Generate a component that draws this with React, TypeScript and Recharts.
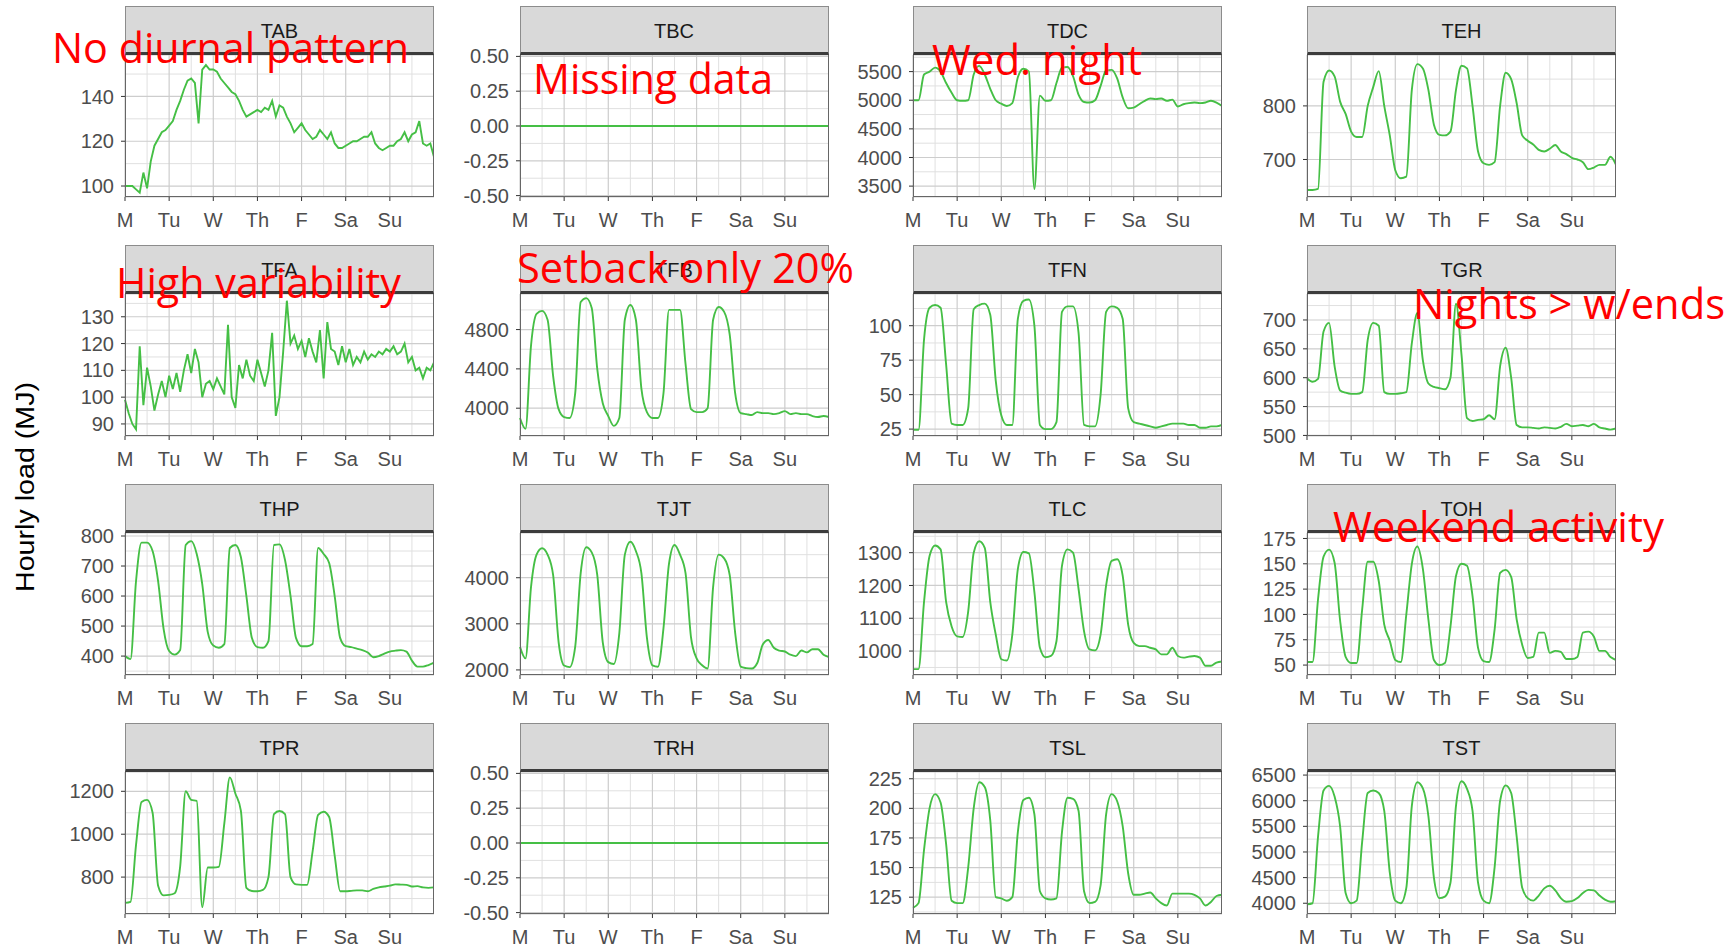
import { LineChart, Line, XAxis, YAxis, CartesianGrid } from 'recharts';

const DAYS = ['M', 'Tu', 'W', 'Th', 'F', 'Sa', 'Su'];
const DAY_HOURS = [0, 24, 48, 72, 96, 120, 144];
const HALF_DAYS = [12, 36, 60, 84, 108, 132, 156];

// hourly load (MJ) over one week; TAB and TFA read every 2 h, the rest every 3 h
const TAB = [
  100, 100, 100, 98.5, 97, 106, 99, 111, 118, 121, 124, 125,
  127, 129, 134, 138, 143, 147, 148, 146, 128, 152, 154, 152,
  152, 151, 148, 146, 144, 142, 141, 138, 134, 131, 132, 133,
  134, 133, 135, 134, 138, 131, 136, 135, 131, 128, 124, 126,
  128, 125, 123, 121, 122, 125, 123, 121, 124, 119, 117, 117,
  118, 119, 120, 120, 121, 122, 122, 124, 119, 117, 116, 117,
  118, 118, 120, 121, 124, 120, 123, 124, 129, 119, 118, 119,
  113,
];
const TBC = [0, 0];
const TDC = [
  5000, 5000, 5450, 5500, 5570, 5500, 5300, 5130,
  5000, 4990, 5000, 5450, 5600, 5450, 5200, 5000,
  4940, 4900, 4950, 5400, 5550, 5500, 3450, 5080,
  4990, 5000, 5300, 5570, 5580, 5420, 5100, 4970,
  4960, 5000, 5250, 5520, 5530, 5380, 5050, 4860,
  4870, 4930, 4990, 5030, 5020, 5030, 4990, 5010,
  4890, 4930, 4950, 4960, 4950, 4960, 4990, 4960,
  4900,
];
const TEH = [
  643, 643, 645, 845, 866, 855, 808, 785,
  752, 742, 742, 800, 835, 865, 800, 745,
  680, 665, 668, 830, 878, 870, 830, 765,
  746, 745, 752, 830, 875, 870, 800, 715,
  693, 690, 695, 800, 862, 850, 805, 745,
  735, 728, 718, 715, 720, 727, 715, 710,
  703, 700, 695, 682, 685, 690, 690, 705,
  690,
];
const TFA = [
  99, 94, 90, 88, 119, 97, 111, 104, 95, 101, 106, 100,
  108, 103, 109, 102, 110, 116, 109, 118, 113, 100, 105, 106,
  103, 107, 104, 101, 127, 100, 96, 112, 107, 114, 108, 106,
  114, 109, 104, 110, 124, 93, 100, 117, 136, 120, 123, 118,
  121, 115, 122, 117, 113, 125, 107, 128, 118, 117, 112, 119,
  113, 118, 112, 115, 113, 117, 114, 116, 115, 117, 116, 118,
  117, 119, 116, 117, 120, 113, 115, 110, 111, 107, 111, 110,
  113,
];
const TFB = [
  3900, 3790, 4640, 4960, 4990, 4900, 4330, 3990,
  3910, 3900, 4150, 5080, 5120, 5020, 4400, 4050,
  3920, 3820, 3900, 4900, 5050, 4900, 4200, 3960,
  3900, 3900, 4150, 5000, 5000, 5000, 4450, 3990,
  3960, 3960, 4000, 4900, 5030, 4980, 4750, 4150,
  3950, 3940, 3930, 3960, 3950, 3950, 3940, 3950,
  3970, 3940, 3950, 3940, 3940, 3920, 3910, 3920,
  3910,
];
const TFN = [
  24.5, 24.5, 90, 113, 115, 113, 72, 29,
  28, 28, 40, 112, 115, 116, 108, 60,
  35, 28, 28, 105, 118, 119, 100, 28,
  25, 25, 30, 110, 114, 114, 95, 28,
  27, 27, 50, 110, 114, 113, 105, 40,
  30, 29, 28, 27, 26, 27, 28, 29,
  29, 29, 28, 28, 26, 26, 27, 27,
  28,
];
const TGR = [
  599, 593, 598, 680, 695, 620, 578, 574,
  572, 572, 575, 665, 695, 690, 575, 572,
  572, 573, 575, 660, 712, 630, 590, 584,
  582, 580, 600, 728, 640, 530, 525, 527,
  528, 535, 528, 620, 652, 600, 518, 514,
  514, 513, 512, 514, 513, 512, 515, 520,
  516, 517, 518, 516, 520, 514, 512, 510,
  512,
];
const THP = [
  400, 390, 650, 778, 778, 750, 650, 490,
  417, 405, 420, 770, 783, 740, 640, 480,
  435, 428, 440, 760, 770, 730, 600, 460,
  430, 428, 450, 770, 772, 720, 600, 460,
  433, 433, 440, 760, 740, 710, 600, 460,
  433, 430, 425, 420, 412, 396, 400, 408,
  415, 418, 420, 415, 385, 365, 365, 370,
  378,
];
const TJT = [
  2500, 2250, 3800, 4500, 4640, 4500, 4060, 2600,
  2095, 2060, 2500, 4100, 4660, 4550, 4060, 2600,
  2170, 2130, 2800, 4500, 4780, 4580, 4100, 2700,
  2100, 2070, 2900, 4300, 4710, 4500, 4100, 2700,
  2250, 2100, 2030, 3800, 4500, 4420, 4060, 2800,
  2070, 2040, 2030, 2150, 2550, 2650, 2480, 2420,
  2400, 2330, 2300, 2420, 2380, 2450, 2450, 2330,
  2280,
];
const TLC = [
  945, 945, 1150, 1290, 1322, 1310, 1150, 1075,
  1045, 1043, 1120, 1300, 1335, 1315, 1150, 1050,
  975, 971, 1050, 1250, 1302, 1298, 1180, 1010,
  981, 985, 1030, 1260, 1310, 1300, 1190, 1060,
  1005, 1002, 1050, 1200, 1275, 1280, 1230, 1080,
  1025, 1015, 1015, 1010, 1005, 990, 990, 1010,
  985, 980, 983, 985, 980, 955, 955, 965,
  968,
];
const TOH = [
  53, 53, 115, 157, 164, 151, 94, 58,
  52, 52, 105, 152, 152, 133, 90, 74,
  55, 53, 100, 150, 167, 145, 95, 55,
  50, 52, 88, 138, 150, 148, 118, 67,
  54, 53, 85, 141, 144, 137, 95, 70,
  57, 58, 82, 82, 62, 64, 63, 56,
  56, 58, 82, 83, 78, 64, 64, 58,
  55,
];
const TPR = [
  680, 685, 950, 1150, 1160, 1100, 760, 715,
  717, 725, 850, 1200, 1160, 1155, 660, 845,
  845, 848, 1050, 1265, 1190, 1110, 750, 735,
  734, 740, 800, 1094, 1108, 1094, 800, 766,
  764, 764, 920, 1090, 1105, 1080, 900, 734,
  734, 736, 738, 738, 734, 745, 752, 756,
  760, 766, 765, 764, 756, 758, 752, 750,
  752,
];
const TRH = [0, 0];
const TSL = [
  116, 120, 165, 200, 212, 205, 170, 122,
  120, 120, 150, 200, 222, 218, 190, 125,
  124, 122, 125, 180, 207, 209, 195, 130,
  124, 123, 124, 180, 209, 208, 198, 130,
  120, 121, 135, 195, 212, 206, 185, 145,
  127, 127, 128, 129, 124, 120, 118, 128,
  128, 128, 128, 127, 124, 118, 121, 126,
  127,
];
const TST = [
  3980, 4000, 5300, 6200, 6290, 6080, 5500, 4200,
  4000, 4050, 5200, 6150, 6200, 6150, 5800, 4600,
  4050, 4000, 4300, 5900, 6360, 6240, 5700, 4500,
  4100, 4130, 4400, 5900, 6380, 6230, 5800, 4400,
  4050, 4000, 4700, 6000, 6300, 6150, 5300, 4300,
  4100, 4050, 4150, 4290, 4340, 4250, 4100, 4030,
  4040, 4100, 4200, 4260, 4250, 4150, 4070, 4030,
  4040,
];

// y tick labels
const TAB_TICKS = [100, 120, 140];
const ZERO_TICKS = [-0.5, -0.25, 0, 0.25, 0.5];
const TDC_TICKS = [3500, 4000, 4500, 5000, 5500];
const TEH_TICKS = [700, 800];
const TFA_TICKS = [90, 100, 110, 120, 130];
const TFB_TICKS = [4000, 4400, 4800];
const TFN_TICKS = [25, 50, 75, 100];
const TGR_TICKS = [500, 550, 600, 650, 700];
const THP_TICKS = [400, 500, 600, 700, 800];
const TJT_TICKS = [2000, 3000, 4000];
const TLC_TICKS = [1000, 1100, 1200, 1300];
const TOH_TICKS = [50, 75, 100, 125, 150, 175];
const TPR_TICKS = [800, 1000, 1200];
const TSL_TICKS = [125, 150, 175, 200, 225];
const TST_TICKS = [4000, 4500, 5000, 5500, 6000, 6500];

const PANELS = [
  { name: 'TAB', values: TAB, step: 2, domain: [95.1, 158.5], ticks: TAB_TICKS },
  { name: 'TBC', values: TBC, step: 168, domain: [-0.51, 0.51], ticks: ZERO_TICKS },
  { name: 'TDC', values: TDC, step: 3, domain: [3310, 5790], ticks: TDC_TICKS },
  { name: 'TEH', values: TEH, step: 3, domain: [630, 895], ticks: TEH_TICKS },
  { name: 'TFA', values: TFA, step: 2, domain: [85.5, 138.5], ticks: TFA_TICKS },
  { name: 'TFB', values: TFB, step: 3, domain: [3717, 5162], ticks: TFB_TICKS },
  { name: 'TFN', values: TFN, step: 3, domain: [20, 123], ticks: TFN_TICKS },
  { name: 'TGR', values: TGR, step: 3, domain: [499, 745], ticks: TGR_TICKS },
  { name: 'THP', values: THP, step: 3, domain: [337, 810], ticks: THP_TICKS },
  { name: 'TJT', values: TJT, step: 3, domain: [1890, 4970], ticks: TJT_TICKS },
  { name: 'TLC', values: TLC, step: 3, domain: [927, 1360], ticks: TLC_TICKS },
  { name: 'TOH', values: TOH, step: 3, domain: [40.2, 180.4], ticks: TOH_TICKS },
  { name: 'TPR', values: TPR, step: 3, domain: [628, 1290], ticks: TPR_TICKS },
  { name: 'TRH', values: TRH, step: 168, domain: [-0.51, 0.51], ticks: ZERO_TICKS },
  { name: 'TSL', values: TSL, step: 3, domain: [110.8, 230.7], ticks: TSL_TICKS },
  { name: 'TST', values: TST, step: 3, domain: [3790, 6560], ticks: TST_TICKS },
];

const NOTES = [
  { text: 'No diurnal pattern', x: 52, y: 63, w: 357 },
  { text: 'Missing data', x: 533, y: 94, w: 240 },
  { text: 'Wed. night', x: 932, y: 75, w: 210 },
  { text: 'High variability', x: 116, y: 298, w: 285 },
  { text: 'Setback only 20%', x: 517, y: 283, w: 337 },
  { text: 'Nights > w/ends', x: 1413, y: 319, w: 312 },
  { text: 'Weekend activity', x: 1333, y: 542, w: 331 },
];

const FONT = '"Liberation Sans", Arial, sans-serif';
const GREEN = '#45bf45';
const COL_LEFT = [125, 519.5, 913, 1307];
const ROW_TOP = [55, 294, 533, 772];
const PW = 309;
const PH = 142;
const STRIP_H = 49;
const AXIS_W = 80;
const XAXIS_H = 44;
const PAD_TOP = 16;

function minorTicks(ticks: number[], domain: number[]) {
  const gap = ticks.length > 1 ? ticks[1] - ticks[0] : 100;
  const out: number[] = [];
  for (let v = ticks[0] - gap / 2; v <= domain[1]; v += gap) {
    if (v > domain[0] && v < domain[1]) out.push(v);
  }
  return out;
}

function Panel({ p, left, top }: { p: (typeof PANELS)[number]; left: number; top: number }) {
  const data = p.values.map((v, i) => ({ h: i * p.step, v }));
  const fmt = (v: number) => (p.name === 'TBC' || p.name === 'TRH' ? v.toFixed(2) : String(v));
  return (
    <>
      <div style={{ position: 'absolute', left: left - AXIS_W, top: top - PAD_TOP }}>
        <LineChart
          width={AXIS_W + PW} height={PAD_TOP + PH + XAXIS_H} data={data}
          margin={{ top: PAD_TOP, right: 0, bottom: 0, left: 0 }}
        >
          <CartesianGrid stroke="#e0e0e0" strokeWidth={1} horizontalValues={minorTicks(p.ticks, p.domain)} verticalValues={HALF_DAYS} />
          <CartesianGrid stroke="#cdcdcd" strokeWidth={1.2} />
          <XAxis
            dataKey="h" type="number" domain={[0, 168]} ticks={DAY_HOURS} interval={0}
            tickFormatter={(h) => DAYS[Math.round(h / 24)]}
            height={XAXIS_H} axisLine={false} tickSize={4} tickMargin={12}
            tickLine={{ stroke: '#333' }} tick={{ fill: '#4d4d4d', fontSize: 20, fontFamily: FONT }}
          />
          <YAxis
            type="number" domain={p.domain} ticks={p.ticks} interval={0} allowDataOverflow
            tickFormatter={fmt} width={AXIS_W} axisLine={false} tickSize={4} tickMargin={7}
            tickLine={{ stroke: '#333' }} tick={{ fill: '#4d4d4d', fontSize: 20, fontFamily: FONT }}
          />
          <Line
            type={p.step === 3 ? 'monotone' : 'linear'} dataKey="v" stroke={GREEN} strokeWidth={1.9}
            dot={false} isAnimationActive={false}
          />
        </LineChart>
      </div>
      <div
        style={{
          position: 'absolute', left, top: top - STRIP_H, width: PW, height: STRIP_H,
          background: '#d9d9d9', border: '1px solid #8c8c8c', borderBottom: '3px solid #3c3c3c',
          boxSizing: 'border-box', display: 'flex', alignItems: 'center', justifyContent: 'center',
          paddingTop: 3, fontFamily: FONT, fontSize: 20, color: '#1a1a1a',
        }}
      >
        {p.name}
      </div>
      <div
        style={{
          position: 'absolute', left, top, width: PW, height: PH,
          border: '1.5px solid #666', borderTop: 'none', boxSizing: 'border-box', pointerEvents: 'none',
        }}
      />
    </>
  );
}

export default function App() {
  return (
    <div style={{ position: 'absolute', left: 0, top: 0, width: 1732, height: 947, background: '#fff', overflow: 'hidden' }}>
      {PANELS.map((p, i) => (
        <Panel key={p.name} p={p} left={COL_LEFT[i % 4]} top={ROW_TOP[Math.floor(i / 4)]} />
      ))}
      <svg width={1732} height={947} style={{ position: 'absolute', left: 0, top: 0, pointerEvents: 'none' }}>
        <text
          x={34} y={487} transform="rotate(-90, 34, 487)" textAnchor="middle"
          fontFamily={FONT} fontSize={25} fill="#000" textLength={210} lengthAdjust="spacingAndGlyphs"
        >
          Hourly load (MJ)
        </text>
        {NOTES.map((n) => (
          <text
            key={n.text} x={n.x} y={n.y} fontFamily="'Open Sans', Lato, sans-serif" fontSize={42}
            fill="#ff0000" textLength={n.w} lengthAdjust="spacingAndGlyphs"
          >
            {n.text}
          </text>
        ))}
      </svg>
    </div>
  );
}
